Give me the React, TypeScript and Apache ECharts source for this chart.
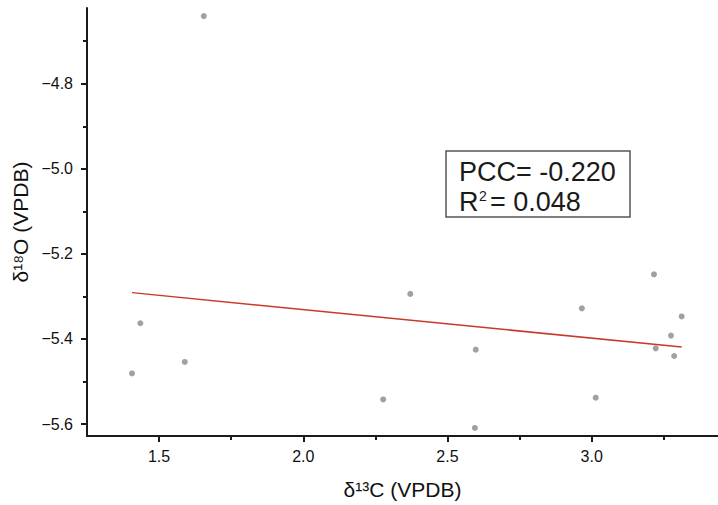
import React, { useEffect, useRef } from "react";
import * as echarts from "echarts";

const carbon13 = [1.655, 1.435, 1.406, 1.589, 2.277, 2.371, 2.598, 2.595, 2.966, 3.014, 3.216, 3.222, 3.275, 3.286, 3.312];
const oxygen18 = [-4.641, -5.363, -5.481, -5.454, -5.542, -5.294, -5.425, -5.609, -5.328, -5.538, -5.248, -5.422, -5.392, -5.44, -5.347];
const fitX = [1.406, 3.312];
const fitY = [-5.291, -5.419];
const xMajorTicks = [1.5, 2.0, 2.5, 3.0];
const xMinorTicks = [1.75, 2.25, 2.75, 3.25];
const yMajorTicks = [-5.6, -5.4, -5.2, -5.0, -4.8];
const yMinorTicks = [-5.5, -5.3, -5.1, -4.9, -4.7];
const statPCC = "PCC= -0.220";
const statR2 = "= 0.048";

const FONT = '"Liberation Sans", Arial, sans-serif';
const AXIS_COLOR = "#1a1a1a";

export default function App() {
  const ref = useRef<HTMLDivElement>(null);
  useEffect(() => {
    document.body.style.margin = "0";
    if (!ref.current) return;
    const chart = echarts.init(ref.current, undefined, { renderer: "svg" });
    const xMin = 1.25, xMax = 3.438, yMin = -5.628, yMax = -4.622;
    const lineStyle = { color: AXIS_COLOR, width: 2 };
    const minorAxisCommon = {
      type: "value" as const,
      axisLine: { show: false },
      axisLabel: { show: false },
      splitLine: { show: false },
    };
    chart.setOption({
      animation: false,
      backgroundColor: "#ffffff",
      grid: { left: 87, right: 0, top: 8, bottom: 64, containLabel: false },
      xAxis: [
        {
          type: "value",
          min: xMin,
          max: xMax,
          position: "bottom",
          name: "δ¹³C (VPDB)",
          nameLocation: "middle",
          nameGap: 43,
          nameTextStyle: { fontFamily: FONT, fontSize: 21, color: "#111" },
          axisLine: { show: true, onZero: false, lineStyle },
          axisTick: { show: true, length: 6, customValues: xMajorTicks, lineStyle },
          axisLabel: {
            customValues: xMajorTicks,
            formatter: (v: number) => v.toFixed(1),
            fontFamily: FONT,
            fontSize: 16,
            color: "#111",
            margin: 12,
          },
          splitLine: { show: false },
        },
        {
          ...minorAxisCommon,
          min: xMin,
          max: xMax,
          position: "bottom",
          axisTick: { show: true, length: 4, customValues: xMinorTicks, lineStyle },
        },
      ],
      yAxis: [
        {
          type: "value",
          min: yMin,
          max: yMax,
          position: "left",
          name: "δ¹⁸O (VPDB)",
          nameLocation: "middle",
          nameGap: 52,
          nameTextStyle: { fontFamily: FONT, fontSize: 21, color: "#111" },
          axisLine: { show: true, onZero: false, lineStyle },
          axisTick: { show: true, length: 6, customValues: yMajorTicks, lineStyle },
          axisLabel: {
            customValues: yMajorTicks,
            formatter: (v: number) => v.toFixed(1).replace("-", "\u2212"),
            fontFamily: FONT,
            fontSize: 16,
            color: "#111",
            margin: 14,
          },
          splitLine: { show: false },
        },
        {
          ...minorAxisCommon,
          min: yMin,
          max: yMax,
          position: "left",
          axisTick: { show: true, length: 4, customValues: yMinorTicks, lineStyle },
        },
      ],
      series: [
        {
          type: "scatter",
          data: carbon13.map((c, i) => [c, oxygen18[i]]),
          symbol: "circle",
          symbolSize: 6,
          itemStyle: { color: "#8a8a8a" },
          silent: true,
        },
        {
          type: "line",
          data: fitX.map((x, i) => [x, fitY[i]]),
          symbol: "none",
          lineStyle: { color: "#c9392b", width: 1.5 },
          silent: true,
        },
      ],
      graphic: [
        {
          type: "rect",
          shape: { x: 446, y: 151, width: 184, height: 66 },
          style: { fill: "#fff", stroke: "#555", lineWidth: 1.5 },
        },
        {
          type: "text",
          x: 459,
          y: 158,
          style: { text: statPCC, font: `27px ${FONT}`, fill: "#1a1a1a" },
        },
        {
          type: "text",
          x: 459,
          y: 188,
          style: { text: "R", font: `27px ${FONT}`, fill: "#1a1a1a" },
        },
        {
          type: "text",
          x: 479,
          y: 189,
          style: { text: "2", font: `14px ${FONT}`, fill: "#1a1a1a" },
        },
        {
          type: "text",
          x: 490,
          y: 188,
          style: { text: statR2, font: `27px ${FONT}`, fill: "#1a1a1a" },
        },
      ],
    });
    return () => chart.dispose();
  }, []);
  return <div ref={ref} style={{ width: 718, height: 505 }} />;
}
